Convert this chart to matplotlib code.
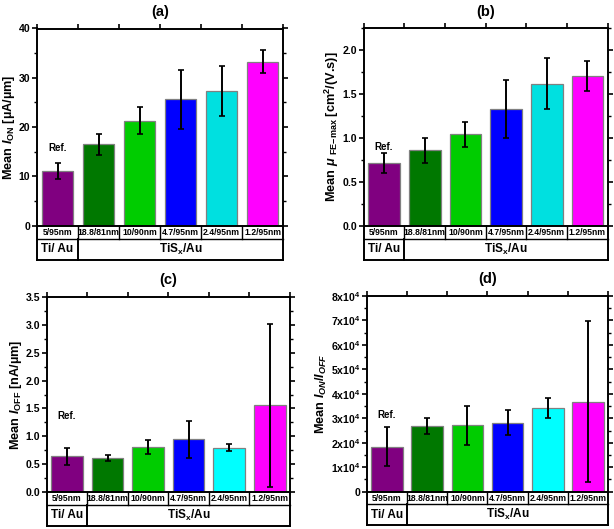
import numpy as np
import matplotlib
matplotlib.use("Agg")
import matplotlib.pyplot as plt
from matplotlib.ticker import MultipleLocator, FuncFormatter

plt.rcParams['font.family'] = ['Liberation Sans', 'DejaVu Sans']
plt.rcParams['font.weight'] = 'bold'
plt.rcParams['axes.labelweight'] = 'bold'
plt.rcParams['mathtext.fontset'] = 'custom'
plt.rcParams['mathtext.rm'] = 'Liberation Sans:bold'
plt.rcParams['mathtext.it'] = 'Liberation Sans:bold:italic'
plt.rcParams['mathtext.bf'] = 'Liberation Sans:bold'
plt.rcParams['mathtext.default'] = 'rm'

# data
categories = ['5/95nm', '18.8/81nm', '10/90nm', '4.7/95nm', '2.4/95nm', '1.2/95nm']
groups = ['Ti/ Au', r'TiS$_{\mathrm{x}}$/Au']

ion = [11.1, 16.5, 21.3, 25.6, 27.3, 33.3]
ion_err = [1.7, 2.1, 2.8, 6.0, 5.0, 2.3]

mu = [0.71, 0.86, 1.04, 1.33, 1.62, 1.71]
mu_err = [0.115, 0.145, 0.14, 0.33, 0.29, 0.17]

ioff = [0.645, 0.615, 0.81, 0.95, 0.80, 1.556]
ioff_err = [0.155, 0.06, 0.125, 0.33, 0.057, 1.46]

ratio = [1.84e4, 2.68e4, 2.71e4, 2.81e4, 3.41e4, 3.68e4]
ratio_err = [0.79e4, 0.33e4, 0.80e4, 0.51e4, 0.40e4, 3.30e4]

colors_top = ['#800080', '#007800', '#00CC00', '#0000FF', '#00E0E0', '#FF00FF']
colors_bot = ['#800080', '#007800', '#00CC00', '#0000FF', '#00FFFF', '#FF00FF']

W, H = 614, 529
fig = plt.figure(figsize=(W / 100, H / 100), dpi=100)


def px_axes(left, top, right, bottom):
    return fig.add_axes([left / W, 1 - bottom / H, (right - left) / W, (bottom - top) / H])


def panel(ax, vals, errs, ymax, major, minor, ylabel, title, ref_y, colors, fmt=None):
    x = np.arange(len(categories))
    ax.bar(x, vals, width=0.78, color=colors, edgecolor='#808080', linewidth=0.9, zorder=2)
    ax.errorbar(x, vals, yerr=errs, fmt='none', ecolor='black', elinewidth=1.4,
                capsize=2.5, capthick=1.2, zorder=3)
    ax.set_xlim(-0.5, len(categories) - 0.5)
    ax.set_ylim(0, ymax)
    ax.yaxis.set_major_locator(MultipleLocator(major))
    ax.yaxis.set_minor_locator(MultipleLocator(minor))
    if fmt is not None:
        ax.yaxis.set_major_formatter(FuncFormatter(fmt))
    ax.set_xticks(np.arange(-0.5, len(categories), 1.0))
    ax.tick_params(axis='x', which='both', bottom=False, top=True, labelbottom=False,
                   direction='out', length=3.5, width=1.2)
    ax.tick_params(axis='y', which='major', left=True, right=True, direction='out',
                   length=3.5, width=1.2, labelsize=7.6, pad=1.2)
    ax.tick_params(axis='y', which='minor', left=True, right=True, direction='out',
                   length=2, width=1.0)
    for lab in ax.get_yticklabels():
        lab.set_fontweight('bold')
    for s in ax.spines.values():
        s.set_linewidth(1.4)
    ax.set_ylabel(ylabel, fontsize=9.2, fontweight='bold', labelpad=1)
    ax.set_title(title, fontsize=10.5, fontweight='bold', pad=9)
    ax.text(0, ref_y, 'Ref.', ha='center', va='center', fontsize=7, fontweight='bold')

    # table under the axes
    trans = ax.get_xaxis_transform()
    r1, r2 = -0.065, -0.172
    n = len(categories)
    kw = dict(transform=trans, clip_on=False, color='black')
    ax.plot([-0.5, -0.5], [0, r2], lw=1.4, **kw)
    ax.plot([n - 0.5, n - 0.5], [0, r2], lw=1.4, **kw)
    ax.plot([-0.5, n - 0.5], [r1, r1], lw=1.0, **kw)
    ax.plot([-0.5, n - 0.5], [r2, r2], lw=1.4, **kw)
    for b in np.arange(0.5, n - 0.5, 1.0):
        ax.plot([b, b], [0, r1], lw=1.0, **kw)
    ax.plot([0.5, 0.5], [r1, r2], lw=1.4, **kw)
    for xi, c in zip(x, categories):
        ax.text(xi, r1 / 2, c, transform=trans, ha='center', va='center', fontsize=6.2,
                fontweight='bold')
    ax.text(0, (r1 + r2) / 2, groups[0], transform=trans, ha='center', va='center',
            fontsize=8.5, fontweight='bold')
    ax.text((1 + n - 1) / 2, (r1 + r2) / 2, groups[1], transform=trans, ha='center',
            va='center', fontsize=8.5, fontweight='bold')


def sci_fmt(v, pos):
    if v == 0:
        return '0'
    return r'%dx10$^{4}$' % round(v / 1e4)


ax_a = px_axes(37, 28.5, 283, 225.7)
panel(ax_a, ion, ion_err, 40, 10, 5, r'Mean $\mathit{I}_{\mathrm{ON}}$ [µA/µm]', '(a)', 15.8,
      colors_top)

ax_b = px_axes(363.7, 28.3, 607.7, 225.7)
panel(ax_b, mu, mu_err, 2.25, 0.5, 0.25,
      r'Mean $\mathit{\mu}$ $_{\mathrm{FE{-}max}}$ [cm$^{2}$/(V.s)]', '(b)', 0.90, colors_top,
      fmt=lambda v, p: '%.1f' % v)

ax_c = px_axes(46.7, 296.7, 290, 492.3)
panel(ax_c, ioff, ioff_err, 3.5, 0.5, 0.25, r'Mean $\mathit{I}_{\mathrm{OFF}}$ [nA/µm]', '(c)',
      1.37, colors_bot, fmt=lambda v, p: '%.1f' % v)

ax_d = px_axes(366.7, 296, 608.3, 491.7)
panel(ax_d, ratio, ratio_err, 8e4, 1e4, 5e3,
      r'Mean $\mathit{I}_{\mathit{ON}}/\mathit{I}_{\mathit{OFF}}$', '(d)', 3.13e4, colors_bot,
      fmt=sci_fmt)

fig.savefig('out.png', dpi=100)
